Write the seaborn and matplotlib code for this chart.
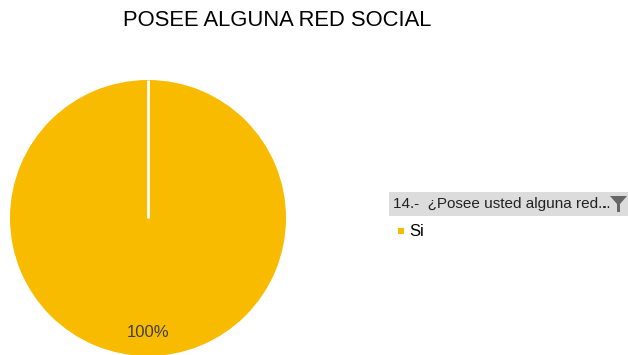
import matplotlib
matplotlib.use("Agg")
import matplotlib.pyplot as plt
import seaborn as sns
from matplotlib.patches import Rectangle, Polygon

categories = ["Si"]
values = [100]
pct_labels = ["100%"]
title = "POSEE ALGUNA RED SOCIAL"
legend_title = "14.-  ¿Posee usted alguna red..."
colors = ["#F9BB00"]

sns.set_theme(style="white")
plt.rcParams['font.family'] = ['Liberation Sans', 'DejaVu Sans']

W, H = 628, 355
fig = plt.figure(figsize=(W / 100, H / 100), dpi=100)
fig.patch.set_facecolor("white")

# pie axes: center (148, 218 from top), radius 138 px
cx, cy, r = 148, H - 218, 138
ax = fig.add_axes([(cx - r) / W, (cy - r) / H, 2 * r / W, 2 * r / H])
wedges, _ = ax.pie(values, colors=colors, startangle=90, counterclock=False,
                   radius=1, wedgeprops=dict(linewidth=0))
ax.set_xlim(-1, 1)
ax.set_ylim(-1, 1)
ax.set_aspect("equal")
ax.axis("off")
# white radial seam at start angle
ax.plot([0, 0], [0, 1], color="white", lw=2, solid_capstyle="butt")
ax.text(0, -0.83, pct_labels[0], ha="center", va="center", fontsize=12, color="#404040")

fig.text(277 / W, 1 - 20 / H, title, ha="center", va="center", fontsize=15.8, color="black")

# legend header bar
fig.patches.append(Rectangle((389 / W, 1 - 216 / H), (W - 389) / W, 24 / H,
                             transform=fig.transFigure, facecolor="#DCDCDC",
                             edgecolor="none", zorder=1))
fig.text(393 / W, 1 - 204 / H, legend_title, ha="left", va="center", fontsize=11,
         color="#222222")
# dropdown dot and filter icon
fig.patches.append(Rectangle((603 / W, 1 - 208 / H), 3 / W, 2 / H,
                             transform=fig.transFigure, facecolor="#555555",
                             edgecolor="none", zorder=2))
funnel = [(610, 196), (627, 196), (620, 204), (620, 212), (617, 212), (617, 204)]
fig.patches.append(Polygon([(x / W, 1 - y / H) for x, y in funnel], closed=True,
                           transform=fig.transFigure, facecolor="#666666",
                           edgecolor="none", zorder=2))

# legend entry
fig.patches.append(Rectangle((398 / W, 1 - 234 / H), 6 / W, 6 / H,
                             transform=fig.transFigure, facecolor=colors[0],
                             edgecolor="none", zorder=2))
fig.text(409 / W, 1 - 231 / H, categories[0], ha="left", va="center", fontsize=12,
         color="black")

fig.savefig("out.png", dpi=100)
